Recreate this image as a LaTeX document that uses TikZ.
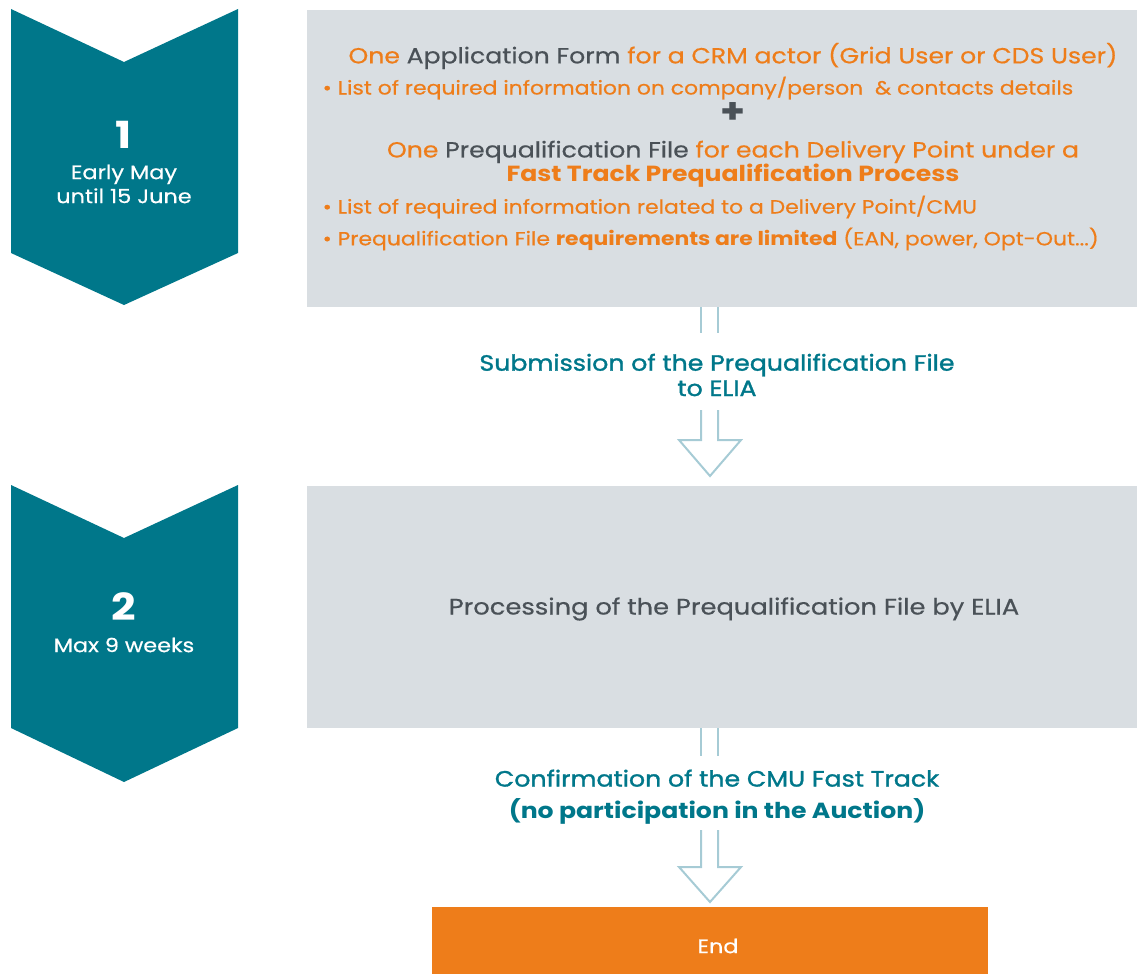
\documentclass[tikz,border=0pt]{standalone}
\usepackage{fontspec}
\setmainfont{Poppins}[FakeStretch=1.15, UprightFeatures={FakeBold=0.5}, BoldFeatures={FakeBold=0}]
\newfontfamily\semibold{Poppins}[FakeStretch=1.14, FakeBold=1.4]
\definecolor{eliateal}{HTML}{00778A}
\definecolor{eliaorange}{HTML}{EE7D1A}
\definecolor{boxgrey}{HTML}{D9DEE2}
\definecolor{textgrey}{HTML}{4A5157}
\definecolor{arrowblue}{HTML}{A6CBD5}
\tikzset{
	chevron/.style={fill=eliateal},
	stepnum/.style={text=white, font=\bfseries\fontsize{28}{30}\selectfont},
	steptime/.style={text=white, align=center, font=\fontsize{14.6}{18}\selectfont},
	headline/.style={text=eliaorange, font=\fontsize{16.4}{18}\selectfont},
	bulletline/.style={text=eliaorange, anchor=west, font=\fontsize{14.3}{16}\selectfont},
	tealnote/.style={text=eliateal, align=center, font=\semibold\fontsize{16.6}{19}\selectfont},
	hollow/.style={draw=arrowblue, line width=1.5pt},
}
\begin{document}
\begin{tikzpicture}[x=0.75pt, y=-0.75pt]
	\useasboundingbox (0,0) rectangle (1137,974);
	
	% step chevrons
	\fill[chevron] (11,9) -- (124,62) -- (238,9) -- (238,253) -- (124,305) -- (11,253) -- cycle;
	\node[stepnum] (num1) at (124,135) {1};
	\node[steptime] (time1) at (124,184) {Early May\\until 15 June};
	
	\fill[chevron] (11,485) -- (124,538) -- (238,485) -- (238,728) -- (124,782) -- (11,728) -- cycle;
	\node[stepnum] (num2) at (124,607) {2};
	\node[steptime] (time2) at (124,645) {Max 9 weeks};
	
	% grey boxes
	\fill[boxgrey] (307,10) rectangle (1137,307);
	\fill[boxgrey] (307,486) rectangle (1137,728);
	
	\node[headline] (form) at (733,56) {One \textcolor{textgrey}{Application Form} for a CRM actor (Grid User or CDS User)};
	\node[bulletline] (info1) at (318,88) {\textbullet\ List of required information on company/person \ \& contacts details};
	\node[text=textgrey, font=\bfseries\fontsize{26}{26}\selectfont] (plus) at (733,113) {+};
	\node[headline, align=center] (file) at (733,164) {One \textcolor{textgrey}{Prequalification File} for each Delivery Point under a\\\textbf{Fast Track Prequalification Process}};
	\node[bulletline] (info2) at (318,207) {\textbullet\ List of required information related to a Delivery Point/CMU};
	\node[bulletline] (info3) at (318,239) {\textbullet\ Prequalification File \textbf{requirements are limited} (EAN, power, Opt-Out...)};
	
	\node[text=textgrey, font=\fontsize{16.8}{19}\selectfont] (process) at (734,609) {Processing of the Prequalification File by ELIA};
	
	% hollow arrows
	\draw[hollow] (701,307) -- (701,333);
	\draw[hollow] (718,307) -- (718,333);
	\node[tealnote] (submit) at (717,375) {Submission of the Prequalification File\\to ELIA};
	\draw[hollow] (701,410) -- (701,440) -- (679,440) -- (710,476) -- (741,440) -- (718,440) -- (718,410);
	
	\draw[hollow] (701,728) -- (701,756);
	\draw[hollow] (718,728) -- (718,756);
	\node[tealnote, font=\semibold\fontsize{16.6}{24}\selectfont] (confirm) at (717,797) {Confirmation of the CMU Fast Track\\{\normalfont\bfseries\fontsize{16.4}{24}\selectfont (no participation in the Auction)}};
	\draw[hollow] (701,830) -- (701,867) -- (679,867) -- (710,902) -- (741,867) -- (718,867) -- (718,830);
	
	% end
	\fill[eliaorange] (432,907) rectangle (988,974);
	\node[text=white, font=\fontsize{14.6}{17}\selectfont] (finish) at (718,946) {End};
\end{tikzpicture}
\end{document}
